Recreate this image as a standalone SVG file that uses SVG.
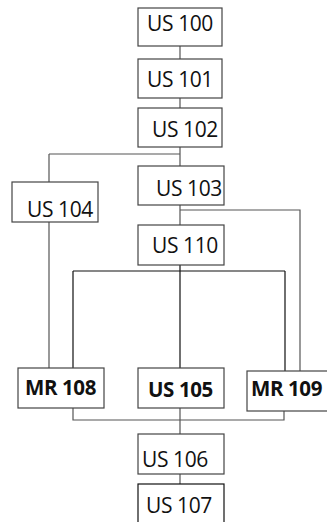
<svg xmlns="http://www.w3.org/2000/svg" width="327" height="522" viewBox="0 0 327 522">
<style>
.box{fill:#fff;stroke:#444;stroke-width:1.2}
.blk{stroke:#111}
.t{font-family:"Open Sans","Noto Sans",sans-serif;font-size:21px;letter-spacing:-0.4px;fill:#111}
.b{font-weight:bold;font-size:20.5px}
.c{fill:none;stroke:#555;stroke-width:1.2}
.k{stroke:#111}
</style>
<rect width="327" height="522" fill="#fff"/>
<g id="connectors">
<path class="c" d="M180 46V59M180 98V108M180 147V166M49 154H180M49 154V182"/>
<path class="c" d="M180 205V225M180 210H300V371M49 222V368"/>
<path class="c k" d="M180 265V368M73 271H285M73 271V368M285 271V371"/>
<path class="c" d="M73 408V420H284V411M180 408V434M180 474V484"/>
</g>
<g id="us100"><rect class="box" x="138" y="8" width="84" height="38"/><text class="t" x="180" y="31" text-anchor="middle">US 100</text></g>
<g id="us101"><rect class="box" x="138" y="59" width="84" height="39"/><text class="t" x="180" y="87" text-anchor="middle">US 101</text></g>
<g id="us102"><rect class="box" x="138" y="108" width="84" height="39"/><text class="t" x="152" y="137">US 102</text></g>
<g id="us103"><rect class="box" x="138" y="166" width="86" height="39"/><text class="t" x="156" y="196">US 103</text></g>
<g id="us104"><rect class="box" x="12" y="182" width="86" height="40"/><text class="t" x="27" y="217">US 104</text></g>
<g id="us110"><rect class="box" x="138" y="225" width="86" height="40"/><text class="t" x="152" y="253">US 110</text></g>
<g id="mr108"><rect class="box" x="18" y="368" width="86" height="40"/><text class="t b" x="25" y="395">MR 108</text></g>
<g id="us105"><rect class="box" x="138" y="368" width="86" height="40"/><text class="t b" x="148" y="397">US 105</text></g>
<g id="mr109"><rect class="box" x="247" y="371" width="90" height="40"/><text class="t b" x="251" y="396">MR 109</text></g>
<g id="us106"><rect class="box" x="138" y="434" width="86" height="40"/><text class="t" x="142" y="467">US 106</text></g>
<g id="us107"><rect class="box blk" x="138" y="484" width="86" height="50"/><text class="t" x="146" y="513">US 107</text></g>
</svg>
